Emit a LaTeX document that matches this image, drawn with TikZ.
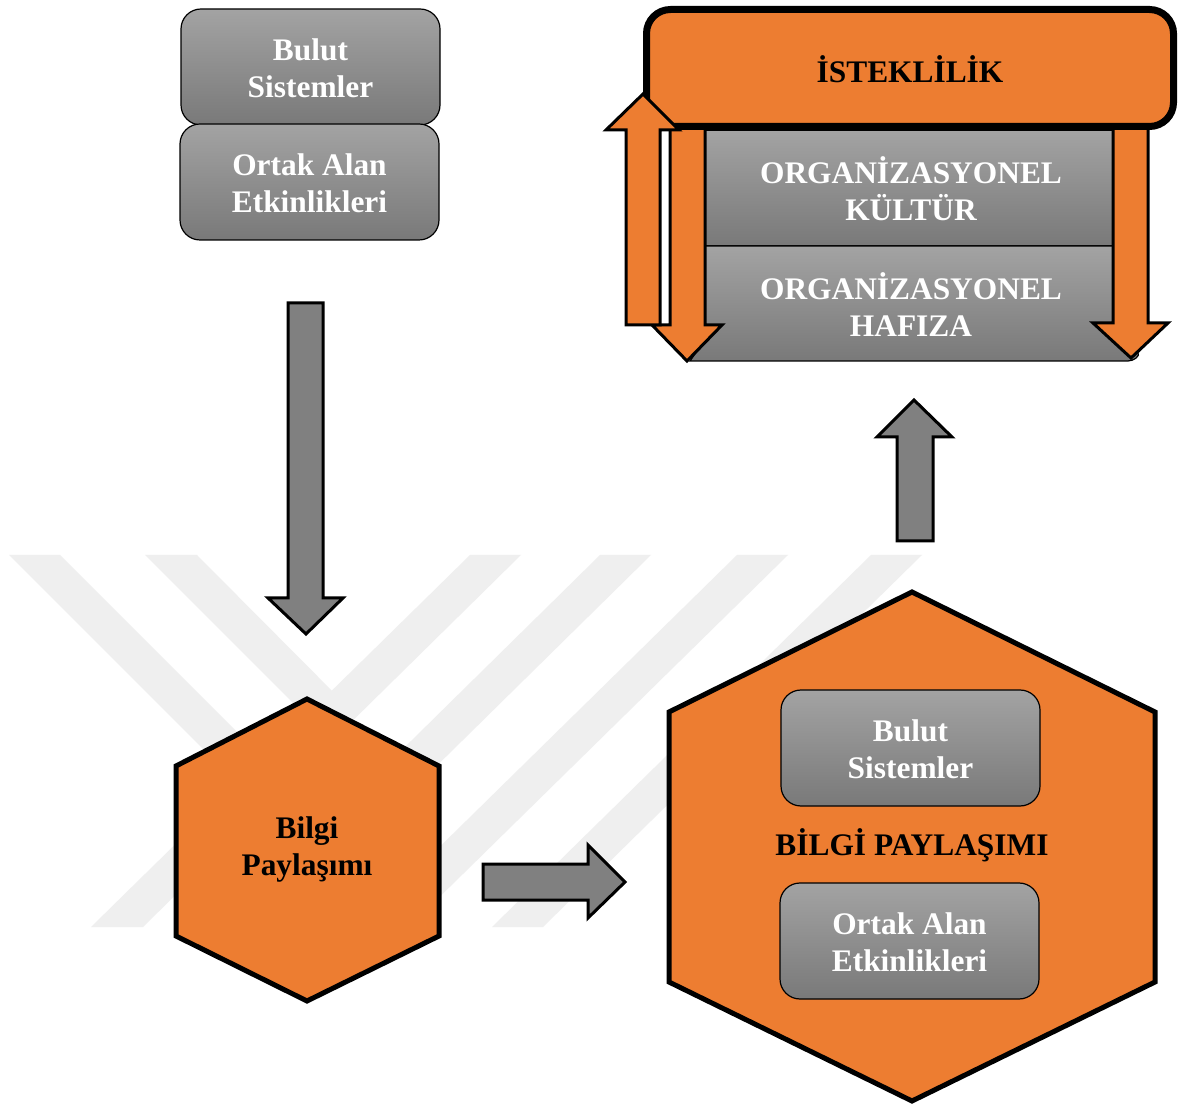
\documentclass[tikz,border=0pt]{standalone}
\usepackage{fontspec}
\setmainfont{Liberation Serif}
\definecolor{orng}{HTML}{ED7D31}
\definecolor{gtop}{HTML}{A3A3A3}
\definecolor{gbot}{HTML}{797979}
\definecolor{arrgray}{HTML}{808080}
\definecolor{wm}{HTML}{EFEFEF}
\begin{document}
\begin{tikzpicture}[x=0.5pt,y=-0.5pt,
  graybox/.style={draw=black, line width=0.6pt, top color=gtop, bottom color=gbot,
    rounded corners=10pt, minimum width=129.5pt, minimum height=58pt, inner sep=0pt},
  grayrect/.style={draw=black, line width=0.6pt, top color=gtop, bottom color=gbot},
  wtext/.style={text=white, font=\fontsize{15.7}{18.5}\selectfont\bfseries, align=center, inner sep=0pt},
  btext/.style={text=black, font=\fontsize{15.7}{18.5}\selectfont\bfseries, align=center, inner sep=0pt},
  hexa/.style={fill=orng, draw=black, line width=2.5pt, line join=miter},
  blockarrow/.style={fill=arrgray, draw=black, line width=1.5pt, line join=miter},
  orarrow/.style={fill=orng, draw=black, line width=1.5pt, line join=miter},
  wmark/.style={fill=wm, draw=none}
]
\useasboundingbox (0,0) rectangle (1184,1106);
\fill[white] (0,0) rectangle (1184,1106);

% watermark
\fill[wmark] (470,555) -- (521,555) -- (143,927) -- (91,927) -- cycle;
\fill[wmark] (600,555) -- (651,555) -- (273,927) -- (222,927) -- cycle;
\fill[wmark] (737,555) -- (788,555) -- (409,927) -- (358,927) -- cycle;
\fill[wmark] (871,555) -- (922,555) -- (543,927) -- (492,927) -- cycle;
\fill[wmark] (9,555) -- (60,555) -- (288,783) -- (237,783) -- cycle;
\fill[wmark] (145,555) -- (197,555) -- (357,716) -- (306,716) -- cycle;

% gray block arrows
\draw[blockarrow] (288,303) -- (323,303) -- (323,598) -- (343,598) -- (306,634) -- (268,598) -- (288,598) -- cycle;
\draw[blockarrow] (483,864) -- (588,864) -- (588,845) -- (625,882) -- (588,918) -- (588,900) -- (483,900) -- cycle;
\draw[blockarrow] (897,541) -- (933,541) -- (933,437) -- (952,437) -- (914,400) -- (877,437) -- (897,437) -- cycle;

% left hexagon
\draw[hexa] (307,699) -- (439,766) -- (439,936) -- (307,1001) -- (176,936) -- (176,766) -- cycle;
\node[btext] (bp) at (307,849) {Bilgi\\Paylaşımı};

% big hexagon
\draw[hexa] (912,592) -- (1155,712) -- (1155,982) -- (912,1101) -- (669,982) -- (669,712) -- cycle;
\node[graybox] (hb1) at (910.5,748) {};
\node[wtext] (hb1t) at (910.5,749) {Bulut\\Sistemler};
\node[btext] (bpt) at (912,845) {BİLGİ PAYLAŞIMI};
\node[graybox] (hb2) at (909.5,941) {};
\node[wtext] (hb2t) at (909.5,942) {Ortak Alan\\Etkinlikleri};

% top-left stacked boxes
\node[graybox] (tb1) at (310.5,67) {};
\node[wtext] (tb1t) at (310.5,68.5) {Bulut\\Sistemler};
\node[graybox] (tb2) at (309.5,182) {};
\node[wtext] (tb2t) at (309.5,183) {Ortak Alan\\Etkinlikleri};

% organisational boxes
\path[grayrect] (705,130) rectangle (1113,246);
\node[wtext] (kt) at (911,188.5) {ORGANİZASYONEL\\KÜLTÜR};
\path[grayrect] (705,246) -- (1113,246) -- (1113,330) -- (1138,352) to[out=-60,in=0] (1128,361) -- (690,361) -- (705,340) -- cycle;
\node[wtext] (hf) at (911,304.5) {ORGANİZASYONEL\\HAFIZA};

% orange down arrows
\draw[orarrow] (670,120) -- (705,120) -- (705,325) -- (722,325) -- (687,361) -- (652,325) -- (670,325) -- cycle;
\draw[orarrow] (1113,120) -- (1148,120) -- (1148,323) -- (1168,323) -- (1131,358) -- (1093,323) -- (1113,323) -- cycle;

% isteklilik
\node[draw=black, line width=3.5pt, fill=orng, rounded corners=12pt,
      minimum width=263.5pt, minimum height=58.5pt, inner sep=0pt] (ist) at (910,68) {};
\node[btext] (istt) at (910,69) {İSTEKLİLİK};

% orange up arrow
\draw[orarrow] (626,325) -- (660,325) -- (660,130) -- (679,130) -- (643,94) -- (606,130) -- (626,130) -- cycle;
\end{tikzpicture}
\end{document}
